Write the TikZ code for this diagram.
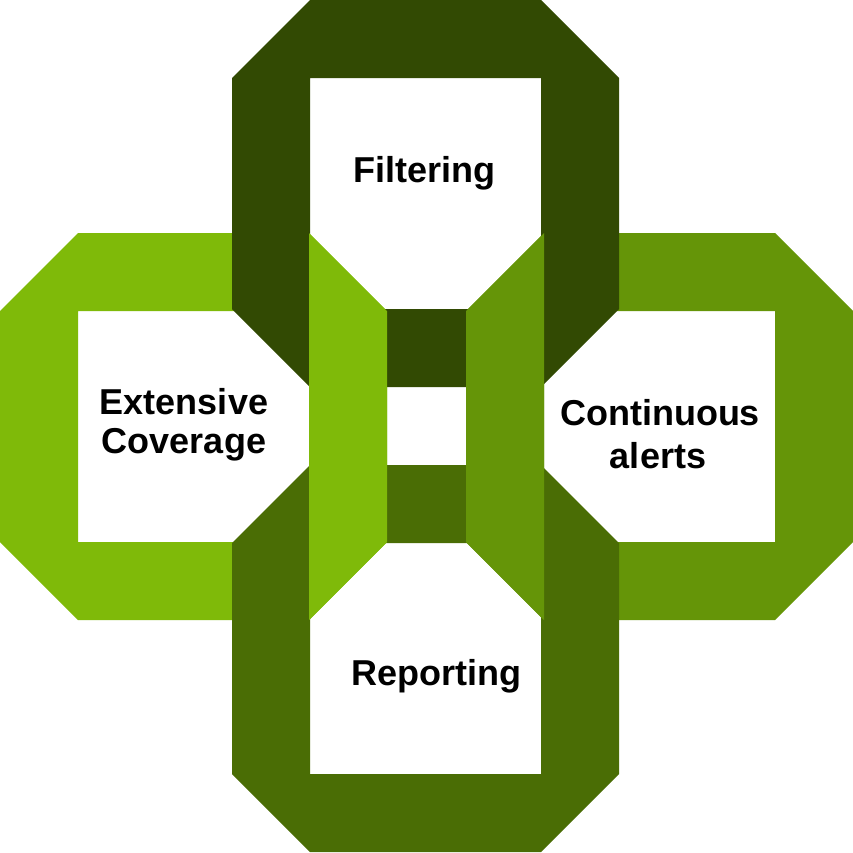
\documentclass[tikz,border=0pt]{standalone}
\usepackage{fontspec}
\setmainfont{Liberation Sans}
\definecolor{ctop}{RGB}{50,74,3}
\definecolor{cleft}{RGB}{127,186,9}
\definecolor{cright}{RGB}{101,149,8}
\definecolor{cbottom}{RGB}{74,109,5}
\tikzset{
  lbl/.style={font=\fontsize{36}{40}\selectfont\bfseries, anchor=base, inner sep=0pt},
}
% ring: #1 = x0, #2 = y0, #3 = colour ; size 387, cut 78
\newcommand\chainring[3]{%
  \fill[#3, even odd rule]
    (#1+78,#2) -- (#1+309,#2) -- (#1+387,#2+78) -- (#1+387,#2+309)
    -- (#1+309,#2+387) -- (#1+78,#2+387) -- (#1,#2+309) -- (#1,#2+78) -- cycle
    (#1+78,#2+78) rectangle (#1+309,#2+309);%
}
\begin{document}
\begin{tikzpicture}[x=1pt,y=-1pt]
\fill[white] (0,0) rectangle (853,852);
\useasboundingbox (0,0) rectangle (853,852);
% left and right rings
\chainring{0}{233}{cleft}
\chainring{466}{233}{cright}
% top and bottom rings
\chainring{232}{0}{ctop}
\chainring{232}{465}{cbottom}
% inner columns of left and right rings pass over top and bottom bands
\fill[cleft] (309,233) -- (387,311) -- (387,542) -- (309,620) -- cycle;
\fill[cright] (544,233) -- (466,311) -- (466,542) -- (544,620) -- cycle;
% labels
\node[lbl] (filt) at (424,182) {Filtering};
\node[lbl] (ext1) at (184,414) {Extensive};
\node[lbl] (ext2) at (184,453) {Coverage};
\node[lbl] (con1) at (660,425) {Continuous};
\node[lbl] (con2) at (658,468) {alerts};
\node[lbl] (rep) at (436,685) {Reporting};
\end{tikzpicture}
\end{document}
